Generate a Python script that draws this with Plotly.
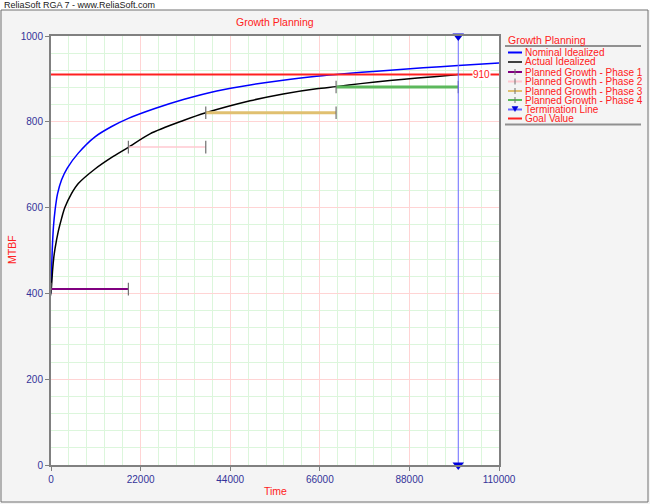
import plotly.graph_objects as go

# ---------------- data ----------------
nominal_t = [0, 100, 300, 600, 1000, 1600, 2600, 4000, 6700, 10800, 14900, 19000, 25500,
             32500, 40700, 48900, 57000, 65200, 72000, 80000, 91400, 100000, 110000]
nominal_m = [400, 440, 500, 555, 594, 632, 665, 692, 727, 765, 789, 808, 831,
             852, 872, 886, 897, 906, 912, 918, 926, 931, 937]

actual_t = [0, 150, 400, 700, 1000, 1800, 2600, 3400, 5000, 6700, 10800, 14900, 18900, 24300,
            32500, 38000, 48900, 57000, 65200, 70000, 76000, 83200, 90000, 98800, 100000]
actual_m = [400, 420, 455, 485, 505, 545, 575, 600, 632, 656, 690, 717, 740, 772,
            803, 821, 849, 865, 877, 882, 889, 896, 902, 909, 910]

phase_names = ["Planned Growth - Phase 1", "Planned Growth - Phase 2",
               "Planned Growth - Phase 3", "Planned Growth - Phase 4"]
phase_start = [0, 19000, 38000, 70000]
phase_end = [19000, 38000, 70000, 100000]
phase_mtbf = [410, 741, 821, 881]

termination_time = 100000
goal_value = 910
x_range = [0, 110000]
y_range = [0, 1000]

# ---------------- styles ----------------
phase_colors = ["#800080", "#ffc8d0", "#e0c070", "#5cb85c"]
phase_widths = [2, 1.5, 3, 3]
RED = "#ff2020"
TICKC = "#333399"
FONT = "Liberation Sans"

# pixel helpers (plot area: x 51..499, y 36..465)
L, R, T, B = 51, 499, 36, 465
def px(x):
    return (x - L) / (R - L)
def py(y):
    return (B - y) / (B - T)

fig = go.Figure()

fig.add_trace(go.Scatter(x=nominal_t, y=nominal_m, mode="lines",
                         line=dict(color="#0000ff", width=1.5, shape="spline", smoothing=0.8),
                         name="Nominal Idealized"))
fig.add_trace(go.Scatter(x=actual_t, y=actual_m, mode="lines",
                         line=dict(color="#000000", width=1.5, shape="spline", smoothing=0.8),
                         name="Actual Idealized"))

for i in range(4):
    fig.add_trace(go.Scatter(
        x=[phase_start[i], phase_end[i]], y=[phase_mtbf[i], phase_mtbf[i]],
        mode="lines+markers", name=phase_names[i],
        line=dict(color=phase_colors[i], width=phase_widths[i]),
        marker=dict(symbol="line-ns", size=9, line=dict(color="#707070", width=1.2)),
        cliponaxis=False))

fig.add_trace(go.Scatter(x=x_range, y=[goal_value, goal_value], mode="lines",
                         line=dict(color=RED, width=2), name="Goal Value"))

fig.add_trace(go.Scatter(x=[termination_time, termination_time], y=y_range,
                         mode="lines+markers", name="Termination Line",
                         line=dict(color="#6a6aff", width=1),
                         marker=dict(symbol="triangle-down", size=10, color="#0000dd"),
                         cliponaxis=False))

shapes = []
annotations = []

# top strip and frame
shapes.append(dict(type="rect", xref="paper", yref="paper", x0=px(0), x1=px(650), y0=py(10), y1=py(0),
                   fillcolor="white", line=dict(width=0), layer="below"))
shapes.append(dict(type="rect", xref="paper", yref="paper", x0=px(1), x1=px(648), y0=py(502), y1=py(10),
                   fillcolor="rgba(0,0,0,0)", line=dict(color="#707070", width=1), layer="below"))
annotations.append(dict(xref="paper", yref="paper", x=px(2), y=py(5), xanchor="left", yanchor="middle",
                        text="ReliaSoft RGA 7 - www.ReliaSoft.com", showarrow=False,
                        font=dict(family=FONT, size=9, color="#202020")))

# titles
annotations.append(dict(xref="paper", yref="paper", x=px(275), y=py(22), xanchor="center", yanchor="middle",
                        text="Growth Planning", showarrow=False, font=dict(family=FONT, size=10.5, color=RED)))
annotations.append(dict(xref="paper", yref="paper", x=px(275), y=py(491), xanchor="center", yanchor="middle",
                        text="Time", showarrow=False, font=dict(family=FONT, size=10.5, color=RED)))
annotations.append(dict(xref="paper", yref="paper", x=px(12), y=py(250), xanchor="center", yanchor="middle",
                        text="MTBF", textangle=-90, showarrow=False, font=dict(family=FONT, size=10.5, color=RED)))

# goal label
annotations.append(dict(x=105800, y=goal_value, xref="x", yref="y", text=str(goal_value), showarrow=False,
                        bgcolor="white", borderpad=0, font=dict(family=FONT, size=10, color=RED)))

# manual legend
annotations.append(dict(xref="paper", yref="paper", x=px(507), y=py(40), xanchor="left", yanchor="middle",
                        text="Growth Planning", showarrow=False, borderpad=0,
                        font=dict(family=FONT, size=10.5, color=RED)))
shapes.append(dict(type="line", xref="paper", yref="paper", x0=px(505), x1=px(641), y0=py(46), y1=py(46),
                   line=dict(color="#909090", width=2)))
shapes.append(dict(type="line", xref="paper", yref="paper", x0=px(505), x1=px(641), y0=py(124.5), y1=py(124.5),
                   line=dict(color="#909090", width=2)))

leg_names = ["Nominal Idealized", "Actual Idealized"] + phase_names + ["Termination Line", "Goal Value"]
leg_colors = ["#0000ff", "#404040"] + phase_colors + ["#6a6aff", RED]
leg_y = [52.5, 62, 72, 81.5, 91, 100, 109.5, 118.5]
for k, name in enumerate(leg_names):
    yy = leg_y[k]
    shapes.append(dict(type="line", xref="paper", yref="paper", x0=px(508), x1=px(522), y0=py(yy), y1=py(yy),
                       line=dict(color=leg_colors[k], width=2)))
    if 2 <= k <= 5:
        shapes.append(dict(type="line", xref="paper", yref="paper", x0=px(515), x1=px(515),
                           y0=py(yy - 3), y1=py(yy + 3), line=dict(color="#707070", width=1)))
    if k == 6:
        shapes.append(dict(type="path", xref="paper", yref="paper",
                           path="M %f,%f L %f,%f L %f,%f Z" % (px(512), py(yy - 3), px(518), py(yy - 3),
                                                               px(515), py(yy + 2)),
                           fillcolor="#0000dd", line=dict(color="#0000dd", width=0.5)))
    annotations.append(dict(xref="paper", yref="paper", x=px(524), y=py(yy), xanchor="left", yanchor="middle",
                            text=name, showarrow=False, borderpad=0,
                            font=dict(family=FONT, size=10, color=RED)))

axis_common = dict(showline=True, linecolor="#808080", linewidth=2, mirror=True,
                   ticks="outside", ticklen=4, tickcolor="#808080", tickformat="d",
                   tickfont=dict(family=FONT, size=10, color=TICKC),
                   zeroline=False, showgrid=True, gridcolor="#ffd4d4", gridwidth=1)

fig.update_layout(
    width=650, height=504,
    margin=dict(l=L, r=650 - R, t=T, b=504 - B),
    paper_bgcolor="#f4f4f4", plot_bgcolor="white",
    showlegend=False,
    xaxis=dict(range=x_range, dtick=22000, tick0=0,
               minor=dict(dtick=4400, showgrid=True, gridcolor="#dcf6dc", ticks=""),
               **axis_common),
    yaxis=dict(range=y_range, dtick=200, tick0=0,
               minor=dict(dtick=40, showgrid=True, gridcolor="#dcf6dc", ticks=""),
               **axis_common),
    shapes=shapes, annotations=annotations,
)

fig.write_html("out.html", config={"displayModeBar": False},
               post_script="document.body.style.margin='0px';")
